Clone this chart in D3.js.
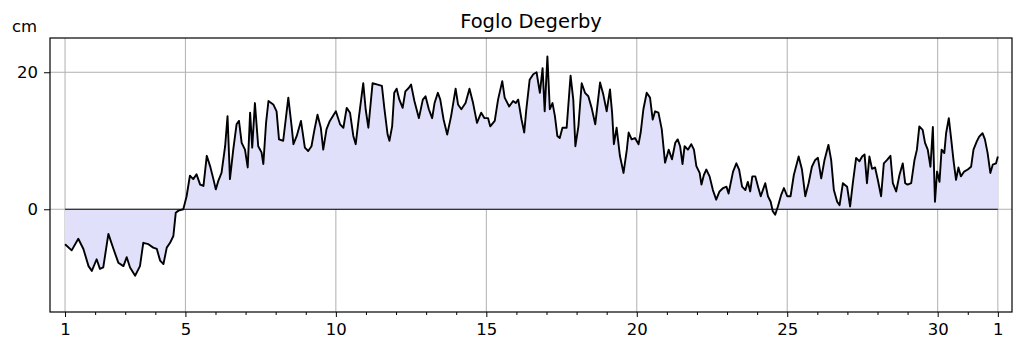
<!DOCTYPE html>
<html lang="en">
<head>
    <meta charset="UTF-8">
    <title>Foglo Degerby</title>
    <style>
        body { margin: 0; background: #fff; }
        svg text { font-family: "DejaVu Sans", sans-serif; fill: #000; }
    </style>
</head>
<body>
    <svg id="container" width="1024" height="352"></svg>

<script src="https://cdn.jsdelivr.net/npm/d3@7"></script>
<script>
    // sea level (cm), day of month as fraction; 32 = 1st of next month
    let days = [
        1.00,1.22,1.44,1.61,1.78,1.89,2.05,2.16,2.27,2.44,
        2.61,2.77,2.94,3.05,3.16,3.33,3.49,3.60,3.77,3.93,
        4.05,4.16,4.27,4.38,4.49,4.60,4.68,4.77,4.93,5.04,
        5.15,5.26,5.37,5.49,5.60,5.71,5.82,5.93,6.01,6.09,
        6.20,6.32,6.40,6.48,6.59,6.70,6.78,6.87,6.98,7.07,
        7.15,7.22,7.31,7.42,7.53,7.59,7.68,7.76,7.92,8.03,
        8.11,8.25,8.42,8.53,8.59,8.70,8.84,8.97,9.08,9.19,
        9.28,9.39,9.50,9.58,9.69,9.80,10.00,10.14,10.25,10.36,
        10.47,10.58,10.66,10.77,10.91,10.99,11.08,
        11.22,11.39,11.53,11.61,11.72,11.78,11.87,11.94,12.02,12.11,
        12.22,12.31,12.42,12.50,12.61,12.76,12.89,12.98,13.09,13.20,
        13.28,13.39,13.47,13.58,13.70,13.83,13.98,14.06,14.17,14.31,
        14.44,14.56,14.69,14.83,14.94,15.06,15.13,15.28,15.39,15.53,
        15.61,15.76,15.89,15.98,16.06,16.17,16.26,16.33,16.44,16.56,
        16.67,16.78,16.87,16.94,17.03,17.11,17.20,17.28,17.36,17.44,
        17.53,17.67,17.80,17.89,17.96,18.06,18.17,18.28,18.39,18.50,
        18.62,18.78,18.89,19.00,19.11,19.18,19.24,19.33,19.44,19.56,
        19.67,19.73,19.83,19.94,20.06,20.13,20.22,20.33,20.44,20.53,
        20.61,20.72,20.83,20.94,21.06,21.17,21.28,21.36,21.44,21.52,
        21.59,21.70,21.81,21.90,21.98,22.09,22.15,22.23,22.31,22.42,
        22.53,22.64,22.75,22.87,22.98,23.05,23.20,23.31,23.40,23.50,
        23.61,23.69,23.77,23.84,23.94,24.03,24.12,24.19,24.27,24.36,
        24.45,24.52,24.60,24.69,24.80,24.89,25.00,25.11,25.22,25.38,
        25.49,25.60,25.71,25.82,25.93,26.02,26.13,26.24,26.37,26.46,
        26.55,26.66,26.74,26.85,26.99,27.09,27.18,27.29,27.40,27.49,
        27.57,27.65,27.73,27.82,27.92,28.01,28.12,28.21,28.32,28.43,
        28.51,28.62,28.73,28.84,28.92,29.00,29.12,29.23,29.31,29.39,
        29.50,29.58,29.67,29.76,29.84,29.91,29.98,30.06,30.13,30.22,
        30.28,30.37,30.44,30.53,30.61,30.69,30.77,30.88,31.00,31.11,
        31.19,31.30,31.38,31.49,31.57,31.66,31.75,31.83,31.94,32.00
    ]

    let level = [
        -5.1,-6.0,-4.3,-5.8,-8.3,-9.0,-7.3,-8.7,-8.5,-3.6,
        -5.8,-7.8,-8.3,-7.0,-8.5,-9.7,-8.3,-4.9,-5.1,-5.6,
        -5.8,-7.5,-8.0,-5.6,-4.9,-3.9,-0.5,-0.2,0.0,1.9,
        4.9,4.4,5.1,3.6,3.4,7.8,6.3,4.4,2.9,4.1,
        5.3,9.2,13.6,4.4,8.7,12.4,12.9,9.7,8.7,6.1,
        14.1,9.0,15.5,9.2,8.3,6.6,12.6,15.8,15.3,14.3,
        10.2,10.0,16.3,12.1,9.5,10.7,12.9,9.0,8.5,9.2,
        11.4,13.8,11.9,8.7,11.7,12.9,14.3,12.4,11.9,14.8,
        14.1,10.7,9.5,13.6,18.4,14.6,11.9,
        18.4,18.2,18.0,14.8,10.9,10.0,12.1,17.0,17.6,16.0,
        14.8,17.2,17.7,18.2,15.8,13.3,16.0,16.5,14.6,13.3,
        15.5,17.0,16.0,13.1,10.9,13.6,17.6,15.3,14.6,15.5,
        17.6,15.5,12.6,14.1,13.3,13.3,12.1,12.9,16.0,18.7,
        16.3,15.0,15.8,15.5,16.0,13.1,11.2,14.6,18.9,19.7,
        20.0,17.0,20.6,14.3,22.3,14.6,15.5,13.6,10.7,10.4,
        11.9,11.9,19.5,16.0,9.2,12.1,18.4,17.0,16.5,14.8,
        12.4,18.5,16.7,14.3,17.5,14.1,9.5,11.9,7.8,5.3,
        8.7,11.2,10.2,10.4,9.5,11.2,14.6,17.0,16.3,13.1,
        14.3,14.1,11.7,6.8,8.7,7.3,9.7,10.2,9.2,6.6,
        9.2,8.7,9.5,8.7,6.3,5.3,3.6,5.0,5.8,4.8,
        2.8,1.4,2.6,3.1,3.3,2.3,5.5,6.7,5.8,3.3,
        2.8,4.0,2.6,4.8,4.8,3.3,1.9,2.8,3.8,1.9,
        1.1,-0.3,-0.8,0.4,2.1,3.1,1.9,1.9,5.0,7.7,
        5.8,1.9,3.8,6.2,7.2,7.5,4.5,7.2,9.4,7.2,
        2.8,1.1,0.6,3.8,3.3,0.4,3.8,7.5,7.0,7.7,
        8.0,3.8,7.7,5.9,6.1,4.3,1.9,6.7,7.2,7.8,
        3.8,2.6,5.0,6.7,3.8,3.6,3.8,7.2,8.7,12.1,
        11.6,9.7,8.7,6.2,12.0,1.1,5.5,4.0,8.7,8.2,
        11.1,13.3,10.6,7.0,4.3,6.1,4.8,5.5,5.8,6.2,
        8.7,9.9,10.6,11.1,10.2,8.2,5.3,6.5,6.7,7.7
    ]

    let majorDays = [1, 5, 10, 15, 20, 25, 30, 32]
    let dayLabels = ["1", "5", "10", "15", "20", "25", "30", "1"]
    let minorDays = d3.range(1, 33).filter(d => !majorDays.includes(d))
    let yTicks = [0, 20]
    let title = "Foglo Degerby"
    let unit = "cm"

    let plotLeft = 50, plotRight = 1012, plotTop = 38, plotBottom = 312
    let svg = d3.select("#container")

    let xScale = d3.scaleLinear().domain([0.5, 32.47]).range([plotLeft, plotRight])
    let yScale = d3.scaleLinear().domain([-15, 25]).range([plotBottom, plotTop])

    let data = days.map((d, i) => ({ day: d, v: level[i] }))

    // grid
    let grid = svg.append("g")
    grid.selectAll(".vg").data(majorDays).enter().append("line")
        .attr("x1", d => xScale(d)).attr("x2", d => xScale(d))
        .attr("y1", plotTop).attr("y2", plotBottom)
        .attr("stroke", "#b0b0b0").attr("stroke-width", 1)
    grid.selectAll(".hg").data(yTicks).enter().append("line")
        .attr("x1", plotLeft).attr("x2", plotRight)
        .attr("y1", d => yScale(d)).attr("y2", d => yScale(d))
        .attr("stroke", "#b0b0b0").attr("stroke-width", 1)

    // filled area down to zero
    let area = d3.area()
        .x(d => xScale(d.day))
        .y0(yScale(0))
        .y1(d => yScale(d.v))
    svg.append("path").datum(data)
        .attr("d", area)
        .attr("fill", "#e0e0fa")

    // zero baseline
    svg.append("line")
        .attr("x1", xScale(days[0])).attr("x2", xScale(days[days.length - 1]))
        .attr("y1", yScale(0)).attr("y2", yScale(0))
        .attr("stroke", "#000").attr("stroke-width", 1)

    let line = d3.line()
        .x(d => xScale(d.day))
        .y(d => yScale(d.v))
    svg.append("path").datum(data)
        .attr("d", line)
        .attr("fill", "none")
        .attr("stroke", "#000")
        .attr("stroke-width", 1.9)
        .attr("stroke-linejoin", "round")

    // frame
    svg.append("rect")
        .attr("x", plotLeft).attr("y", plotTop)
        .attr("width", plotRight - plotLeft).attr("height", plotBottom - plotTop)
        .attr("fill", "none").attr("stroke", "#000").attr("stroke-width", 1.2)

    // axes
    let xAxis = d3.axisBottom(xScale)
        .tickValues(majorDays)
        .tickSize(5)
        .tickPadding(6)
        .tickFormat((d, i) => dayLabels[i])
    let xAxisGroup = svg.append("g")
        .attr("transform", `translate(0, ${plotBottom})`)
        .call(xAxis)

    let xMinor = d3.axisBottom(xScale)
        .tickValues(minorDays)
        .tickSize(3)
        .tickFormat("")
    svg.append("g")
        .attr("transform", `translate(0, ${plotBottom})`)
        .call(xMinor)

    let yAxis = d3.axisLeft(yScale)
        .tickValues(yTicks)
        .tickSize(6)
        .tickPadding(6)
    let yAxisGroup = svg.append("g")
        .attr("transform", `translate(${plotLeft}, 0)`)
        .call(yAxis)

    svg.selectAll(".domain").remove()
    svg.selectAll(".tick line").attr("stroke", "#000")
    svg.selectAll(".tick text")
        .style("font-family", "DejaVu Sans")
        .style("font-size", "16.5px")
        .attr("fill", "#000")

    svg.append("text")
        .attr("x", (plotLeft + plotRight) / 2).attr("y", 28)
        .attr("text-anchor", "middle")
        .style("font-size", "19.5px")
        .text(title)

    svg.append("text")
        .attr("x", 12).attr("y", 32)
        .style("font-size", "16.5px")
        .text(unit)
</script>
</body>
</html>
